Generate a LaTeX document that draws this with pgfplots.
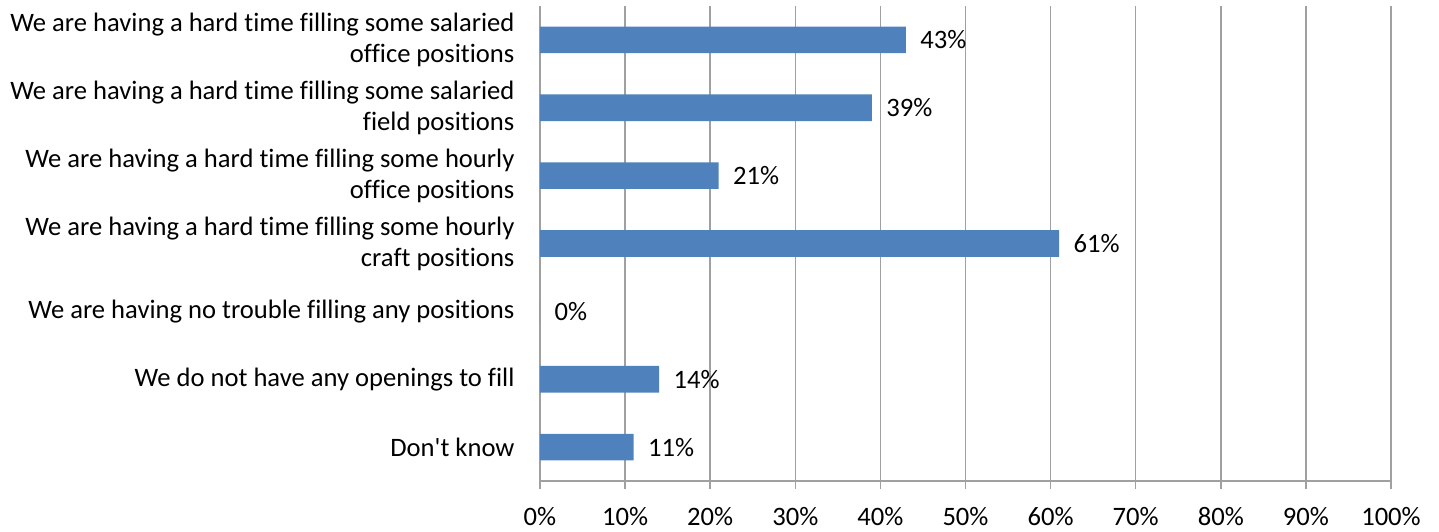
\documentclass[border=0pt]{standalone}
\usepackage{pgfplots}
\pgfplotsset{compat=1.18}
\usepackage{fontspec}
\newfontfamily\calfont{Carlito}[Ligatures=NoCommon]
\setmainfont{Carlito}[Ligatures=NoCommon]
\definecolor{barblue}{HTML}{4F81BD}
\definecolor{gridgray}{HTML}{A0A0A0}
\begin{document}
\begin{tikzpicture}
\path[use as bounding box] (-540pt,-50pt) rectangle (899pt,481pt);
\begin{axis}[
  at={(0pt,0pt)}, anchor=south west,
  scale only axis, width=851pt, height=475pt,
  xbar, bar width=26.6pt,
  xmin=0, xmax=100, ymin=-0.5, ymax=6.5,
  y dir=reverse,
  font=\calfont\fontsize{26.6}{31}\selectfont,
  /pgf/number format/assume math mode=true,
  axis x line=bottom, axis y line=left,
  axis line style={gridgray, line width=1.4pt, -},
  xtick={0,10,...,100},
  xticklabels={0\%,10\%,20\%,30\%,40\%,50\%,60\%,70\%,80\%,90\%,100\%},
  xmajorgrids, major grid style={gridgray, line width=1.4pt},
  x tick style={gridgray, line width=1.4pt},
  xtick align=outside, major tick length=8pt,
  xticklabel style={yshift=-15pt},
  ytick={0,...,6},
  yticklabels={
    {We are having a hard time filling some salaried\\office positions},
    {We are having a hard time filling some salaried\\field positions},
    {We are having a hard time filling some hourly\\office positions},
    {We are having a hard time filling some hourly\\craft positions},
    {We are having no trouble filling any positions},
    {We do not have any openings to fill},
    {Don\char39 t know}},
  yticklabel style={align=right, xshift=-14pt},
  y tick style={draw=none},
  minor ytick={-0.5,0.5,...,6.5},
  minor y tick style={gridgray, line width=1.4pt},
  minor tick length=8pt, ytick align=outside,
  point meta=x,
  nodes near coords={\pgfmathprintnumber{\pgfplotspointmeta}\%},
  nodes near coords style={anchor=west, xshift=11pt, text=black},
  clip=false,
]
\addplot[fill=barblue, draw=none] coordinates {
  (43,0) (39,1) (21,2) (61,3) (0,4) (14,5) (11,6)
};
\end{axis}
\end{tikzpicture}
\end{document}
